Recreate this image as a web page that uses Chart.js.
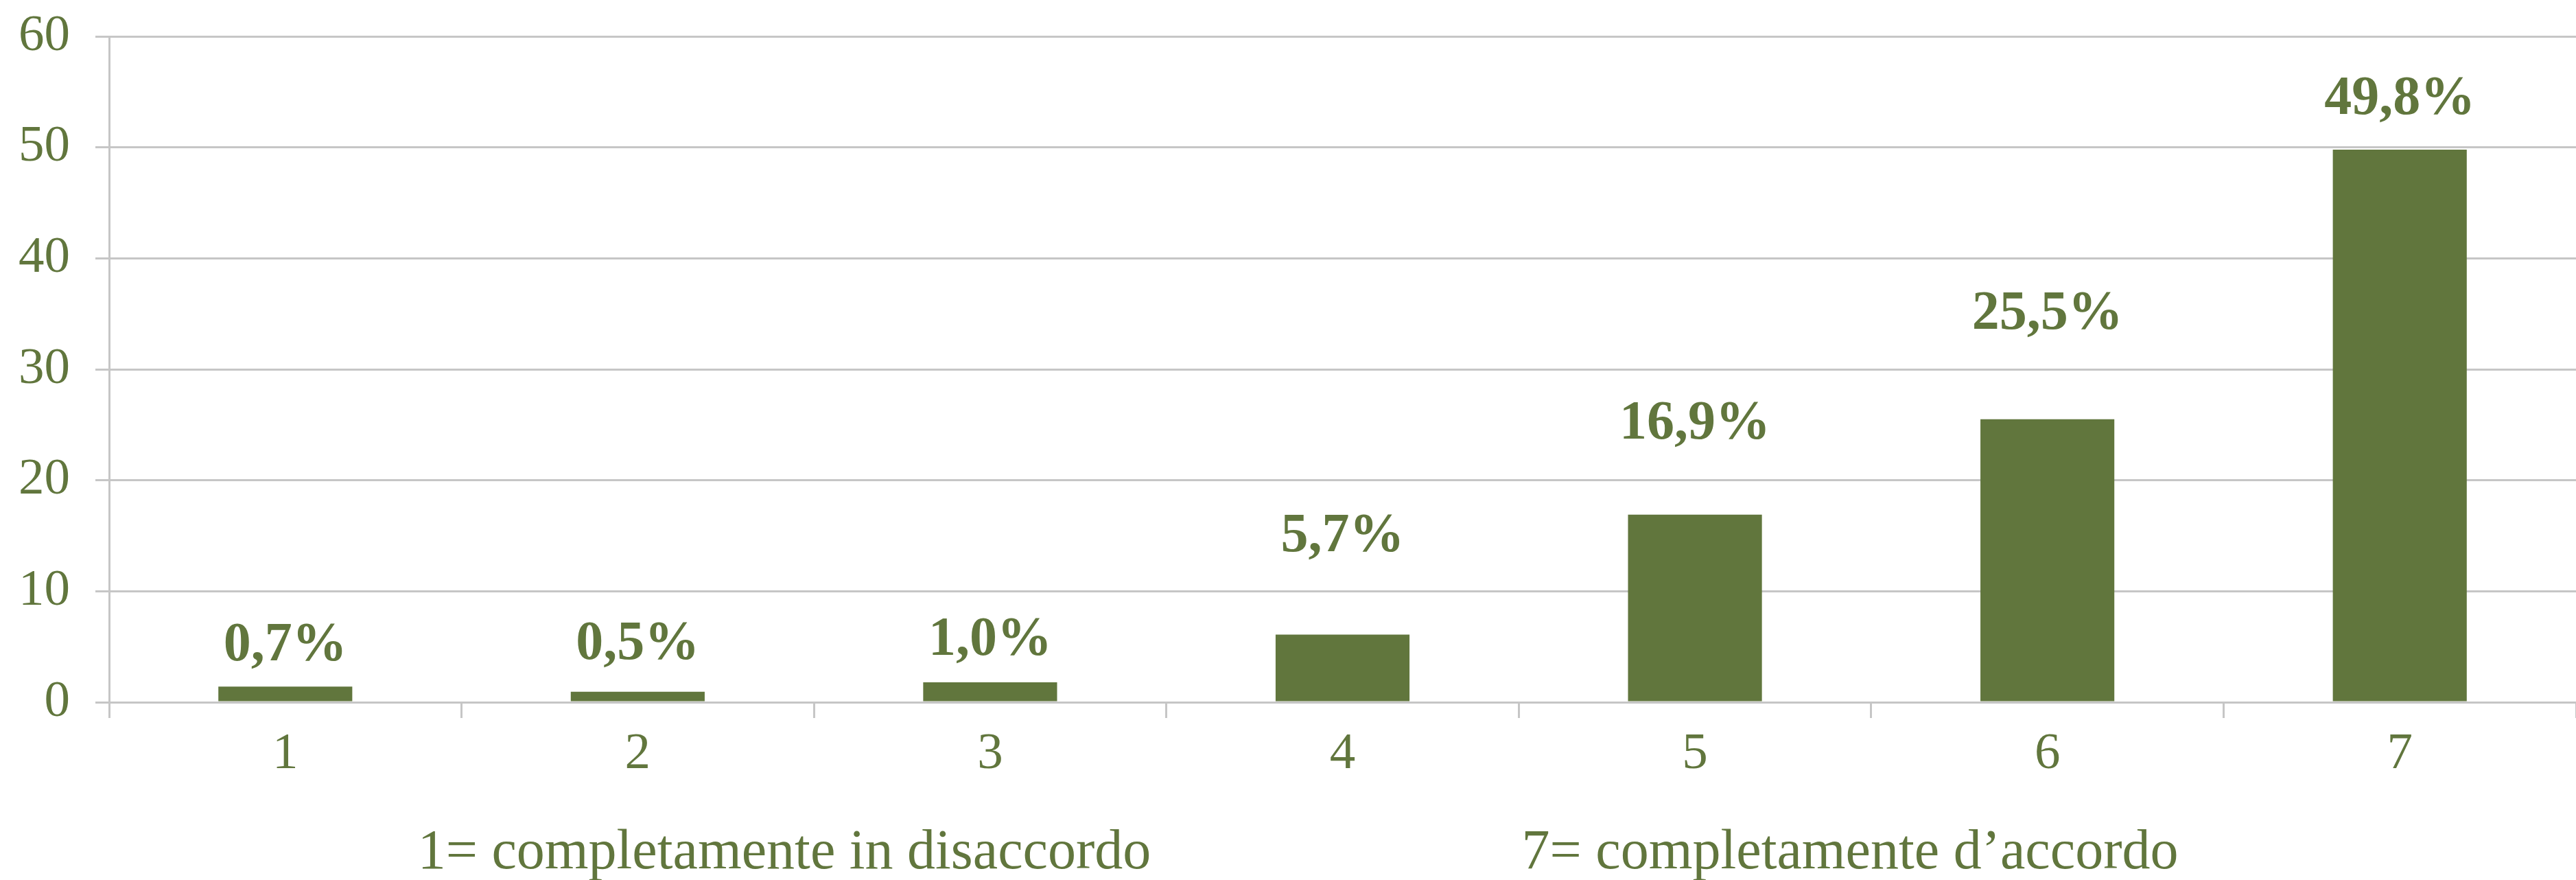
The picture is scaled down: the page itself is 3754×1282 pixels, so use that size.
<!DOCTYPE html>
<html>
<head>
<meta charset="utf-8">
<script src="https://cdn.jsdelivr.net/npm/chart.js@4.4.0/dist/chart.umd.min.js"></script>
<style>
  html, body { margin: 0; padding: 0; background: #ffffff; }
  #wrap { width: 3754px; height: 1282px; }
</style>
</head>
<body>
<div id="wrap"><canvas id="barChart" width="3754" height="1282"></canvas></div>
<script>
// data
const categories = ['1', '2', '3', '4', '5', '6', '7'];
const barValues = [1.4, 0.95, 1.8, 6.1, 16.9, 25.5, 49.8];
const valueLabels = ['0,7%', '0,5%', '1,0%', '5,7%', '16,9%', '25,5%', '49,8%'];
const yMin = 0;
const yMax = 60;
const yStep = 10;
const scaleNotes = ['1= completamente in disaccordo', '7= completamente d\u2019accordo'];

const green = '#61763d';
const gridGray = '#c6c6c6';

// label baseline gap above each bar top (px)
const labelGaps = [38, 48, 40, 121, 111, 132, 52];
// horizontal centre of the notes, as a share of the plot width
const noteCenters = [0.2737, 0.7057];

Chart.defaults.font.family = '"Liberation Serif", "DejaVu Serif", serif';
Chart.defaults.color = green;

const valueLabelPlugin = {
  id: 'valueLabels',
  afterDatasetsDraw(chart) {
    const ctx = chart.ctx;
    const meta = chart.getDatasetMeta(0);
    ctx.save();
    ctx.font = 'bold 80px "Liberation Serif", serif';
    ctx.fillStyle = green;
    ctx.textAlign = 'center';
    ctx.textBaseline = 'alphabetic';
    meta.data.forEach((bar, i) => {
      ctx.fillText(valueLabels[i], bar.x, bar.y - labelGaps[i]);
    });
    ctx.restore();
  }
};

const notesPlugin = {
  id: 'scaleNotes',
  afterDraw(chart) {
    const ctx = chart.ctx;
    const area = chart.chartArea;
    ctx.save();
    ctx.font = '82px "Liberation Serif", serif';
    ctx.fillStyle = green;
    ctx.textAlign = 'center';
    ctx.textBaseline = 'alphabetic';
    scaleNotes.forEach((txt, i) => {
      const x = area.left + (area.right - area.left) * noteCenters[i];
      ctx.fillText(txt, x, chart.height - 17);
    });
    ctx.restore();
  }
};

new Chart(document.getElementById('barChart'), {
  type: 'bar',
  data: {
    labels: categories,
    datasets: [{
      data: barValues,
      backgroundColor: green,
      borderWidth: 0,
      barPercentage: 0.38,
      categoryPercentage: 1.0
    }]
  },
  options: {
    responsive: false,
    animation: false,
    layout: {
      padding: { top: 53, left: 28, right: 0, bottom: 130 }
    },
    scales: {
      x: {
        grid: {
          offset: true,
          drawOnChartArea: false,
          drawTicks: true,
          tickLength: 23,
          color: gridGray,
          lineWidth: 3
        },
        border: { color: gridGray, width: 3 },
        ticks: {
          font: { size: 75 },
          color: green,
          padding: 8
        }
      },
      y: {
        min: yMin,
        max: yMax,
        afterFit(scale) {
          // tick 20 + gap 37 + label column 74
          scale.width = 131;
          scale.paddingTop = 0;
          scale.paddingBottom = 0;
        },
        grid: {
          color: gridGray,
          lineWidth: 3,
          drawTicks: true,
          tickLength: 20
        },
        border: { color: gridGray, width: 3 },
        ticks: {
          stepSize: yStep,
          font: { size: 75 },
          color: green,
          padding: 37
        }
      }
    },
    plugins: {
      legend: { display: false },
      tooltip: { enabled: false }
    }
  },
  plugins: [valueLabelPlugin, notesPlugin]
});
</script>
</body>
</html>
